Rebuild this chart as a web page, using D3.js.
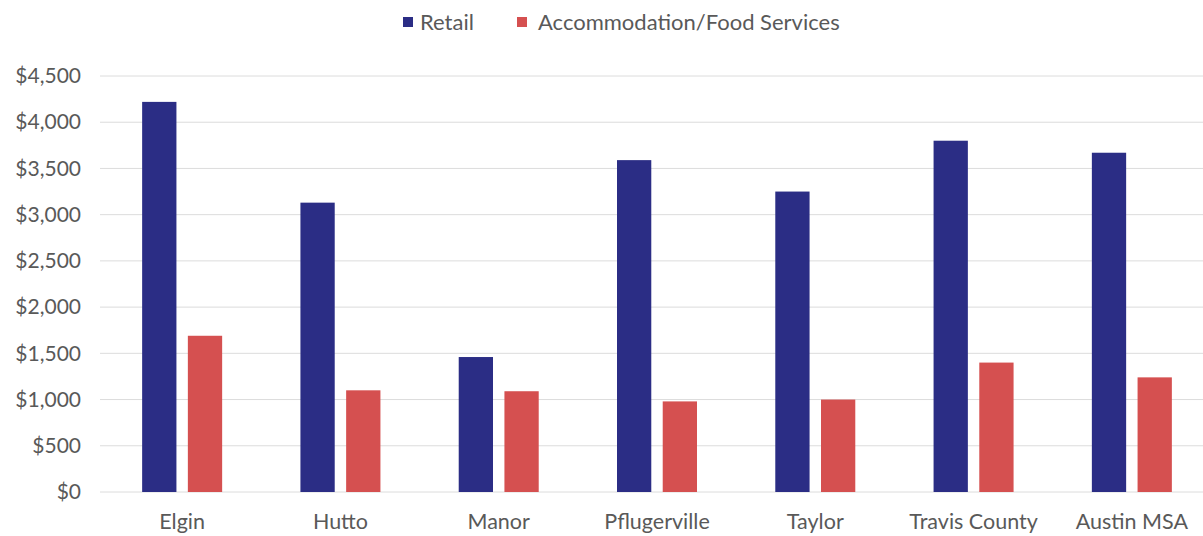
<!DOCTYPE html>
<html>
<head>
<meta charset="utf-8">
<script src="https://cdn.jsdelivr.net/npm/d3@7"></script>
<style>
  body { margin: 0; background: #fff; }
  text { font-family: Lato, "Open Sans", sans-serif; fill: #595959; }
</style>
</head>
<body>
<svg id="chart" width="1203" height="536"></svg>
<script>
// Data
var categories = ["Elgin", "Hutto", "Manor", "Pflugerville", "Taylor", "Travis County", "Austin MSA"];
var seriesNames = ["Retail", "Accommodation/Food Services"];
var retailValues = [4220, 3130, 1460, 3590, 3250, 3800, 3670];
var foodValues = [1690, 1100, 1090, 980, 1000, 1400, 1240];
var yTicks = [0, 500, 1000, 1500, 2000, 2500, 3000, 3500, 4000, 4500];
var colors = ["#2b2d85", "#d55050"];

var svg = d3.select("#chart");

// Skalaer
var x = d3.scaleBand().domain(categories).range([103, 1211]);
var xSub = d3.scaleBand().domain(seriesNames).range([x.bandwidth() / 2 - 40, x.bandwidth() / 2 + 40]).paddingInner(0.25);
var y = d3.scaleLinear().domain([0, 4500]).range([492, 76]);

// Gridlines
svg.append("g")
    .attr("class", "gridy")
    .selectAll("line")
    .data(yTicks)
    .enter().append("line")
    .attr("x1", 100)
    .attr("x2", 1203)
    .attr("y1", function (d) { return y(d); })
    .attr("y2", function (d) { return y(d); })
    .attr("stroke", "#dcdcdc")
    .attr("stroke-width", 1);

// Y-akse
var yAxis = svg.append("g")
    .attr("transform", "translate(81,0)")
    .call(d3.axisLeft(y).tickValues(yTicks).tickSize(0).tickPadding(0)
        .tickFormat(function (d) { return "$" + d3.format(",")(d); }));
yAxis.select(".domain").remove();
yAxis.selectAll("text").style("font-size", "21px").attr("fill", "#595959");

// X-akse
var xAxis = svg.append("g")
    .attr("transform", "translate(0,492)")
    .call(d3.axisBottom(x).tickSize(0).tickPadding(22));
xAxis.select(".domain").remove();
xAxis.selectAll("text").style("font-size", "21.5px").attr("fill", "#595959");

// Stolper
var rows = categories.map(function (c, i) {
    return { cat: c, values: [retailValues[i], foodValues[i]] };
});

var groups = svg.append("g").selectAll("g")
    .data(rows)
    .enter().append("g")
    .attr("transform", function (d) { return "translate(" + x(d.cat) + ",0)"; });

groups.selectAll("rect")
    .data(function (d) { return d.values.map(function (v, j) { return { name: seriesNames[j], value: v, idx: j }; }); })
    .enter().append("rect")
    .attr("x", function (d) { return xSub(d.name); })
    .attr("width", xSub.bandwidth())
    .attr("y", function (d) { return y(d.value); })
    .attr("height", function (d) { return y(0) - y(d.value); })
    .attr("fill", function (d) { return colors[d.idx]; });

// Legend
var legendPos = [403, 517];
var legend = svg.append("g").selectAll("g")
    .data(seriesNames)
    .enter().append("g")
    .attr("transform", function (d, i) { return "translate(" + legendPos[i] + ",17)"; });
legend.append("rect")
    .attr("width", 10).attr("height", 10)
    .attr("fill", function (d, i) { return colors[i]; });
legend.append("text")
    .attr("x", function (d, i) { return i === 0 ? 17 : 21; })
    .attr("y", 5)
    .attr("dy", "0.35em")
    .style("font-size", "22px")
    .text(function (d) { return d; });
</script>
</body>
</html>
